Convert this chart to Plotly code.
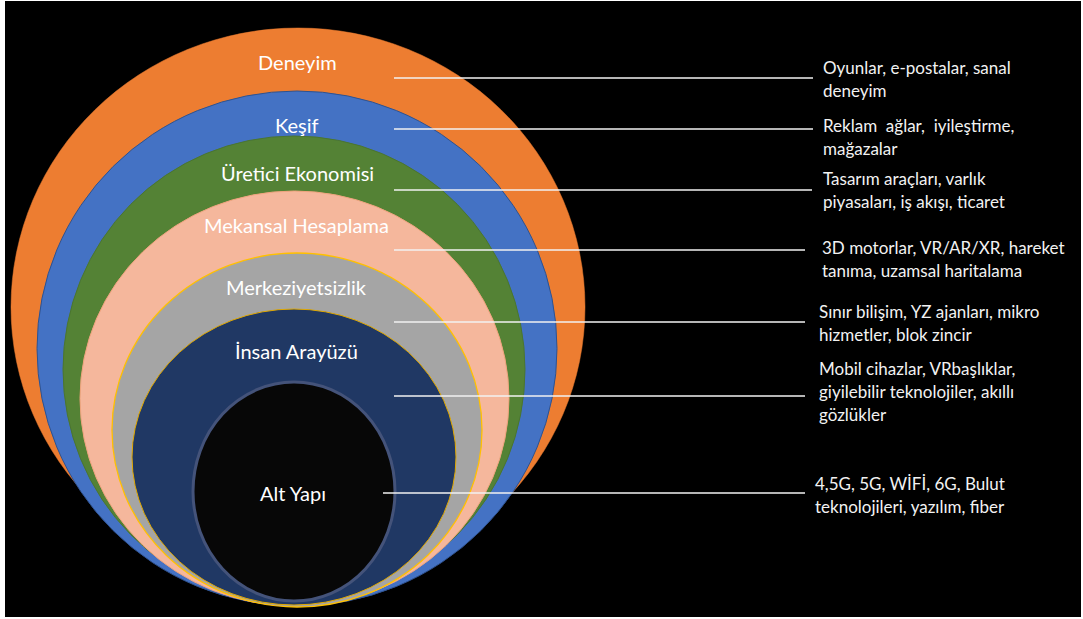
import plotly.graph_objects as go

# ---- data -------------------------------------------------------------
layers = ["Deneyim", "Keşif", "Üretici Ekonomisi", "Mekansal Hesaplama",
          "Merkeziyetsizlik", "İnsan Arayüzü", "Alt Yapı"]
descriptions = [
    ["Oyunlar, e-postalar, sanal", "deneyim"],
    ["Reklam\u00a0 ağlar,\u00a0 iyileştirme,", "mağazalar"],
    ["Tasarım araçları, varlık", "piyasaları, iş akışı, ticaret"],
    ["3D motorlar, VR/AR/XR, hareket", "tanıma, uzamsal haritalama"],
    ["Sınır bilişim, YZ ajanları, mikro", "hizmetler, blok zincir"],
    ["Mobil cihazlar, VRbaşlıklar,", "giyilebilir teknolojiler, akıllı", "gözlükler"],
    ["4,5G, 5G, WİFİ, 6G, Bulut", "teknolojileri, yazılım, fiber"],
]
fill_colors = ["#ED7D31", "#4472C4", "#548235", "#F5B79C", "#A5A5A5", "#203864", "#070707"]
edge_colors = ["#ED7D31", "#2F528F", "#4A7530", "#EFA47E", "#FFC000", "#E0A800", "#44537A"]
edge_widths = [0.5, 1, 1, 1, 1.3, 1, 3]

# ---- layout geometry (pixel-like coordinates) ---------------------------
ellipses = [(11, 585, 28, 586), (37, 557, 91, 606), (63, 525, 136, 603),
            (80, 509, 191, 606), (112, 482, 253, 607), (132, 456, 309, 605),
            (193, 395, 382, 601)]
label_x = [297, 297, 297, 296, 296, 296, 293]
label_y = [62, 125, 173, 225, 287, 351, 493]
line_y = [78, 129, 190, 250, 322, 396, 493]
line_x0 = [394, 394, 394, 394, 394, 394, 383]
line_x1 = [813, 813, 812, 805, 805, 805, 805]
desc_x = [821, 821, 821, 820, 817, 817, 813]
desc_y0 = [67, 125, 178, 247, 311, 368, 483]
desc_gap = 23

W, H = 1083, 619
ML, MR, MT, MB = 5, 2, 1, 2
FONT = "Lato, 'Open Sans', sans-serif"

fig = go.Figure()

shapes = []
for (x0, x1, y0, y1), fc, ec, ew in zip(ellipses, fill_colors, edge_colors, edge_widths):
    shapes.append(dict(type="circle", xref="x", yref="y", x0=x0, x1=x1, y0=y0, y1=y1,
                       fillcolor=fc, line=dict(color=ec, width=ew), layer="below"))

# connector lines
for x0, x1, y in zip(line_x0, line_x1, line_y):
    fig.add_trace(go.Scatter(x=[x0, x1], y=[y, y], mode="lines",
                             line=dict(color="#F2F2F2", width=1.3),
                             hoverinfo="skip", showlegend=False))

annotations = []
for name, x, y in zip(layers, label_x, label_y):
    annotations.append(dict(x=x, y=y, xref="x", yref="y", text=name, showarrow=False,
                            xanchor="center", yanchor="middle",
                            font=dict(family=FONT, size=20, color="white")))

for lines, x, y0 in zip(descriptions, desc_x, desc_y0):
    for i, t in enumerate(lines):
        annotations.append(dict(x=x, y=y0 + i * desc_gap, xref="x", yref="y", text=t,
                                showarrow=False, xanchor="left", yanchor="middle",
                                font=dict(family=FONT, size=17, color="#F2F2F2")))

fig.update_layout(
    width=W, height=H, autosize=False,
    margin=dict(l=ML, r=MR, t=MT, b=MB, pad=0),
    paper_bgcolor="white", plot_bgcolor="black",
    shapes=shapes, annotations=annotations,
    xaxis=dict(range=[ML, W - MR], visible=False, fixedrange=True),
    yaxis=dict(range=[H - MB, MT], visible=False, fixedrange=True),
    showlegend=False,
)

fig.write_html("out.html", config={"displayModeBar": False},
               post_script="document.body.style.margin='0';document.body.style.overflow='hidden';")
